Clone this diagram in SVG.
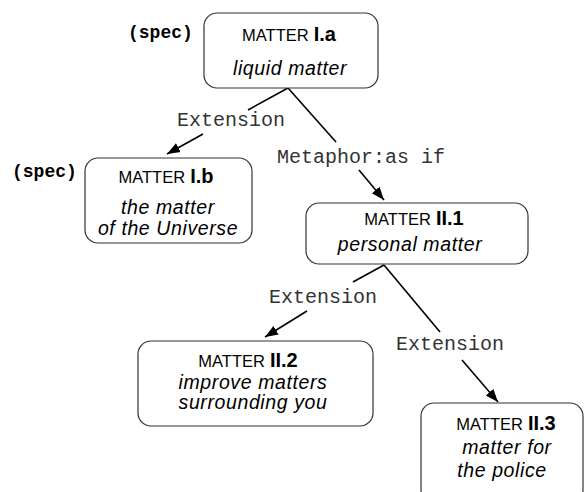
<svg xmlns="http://www.w3.org/2000/svg" width="586" height="492" viewBox="0 0 586 492">
<defs>
<marker id="arr" markerUnits="userSpaceOnUse" markerWidth="14" markerHeight="12" viewBox="0 0 14 12" refX="13" refY="6" orient="auto">
<path d="M0,1 L13,6 L0,11 Z" fill="#000"/>
</marker>
<style>
.box{fill:#fff;stroke:#333;stroke-width:1.2}
.m{font-family:"Liberation Sans",Arial,sans-serif;font-size:16.5px;fill:#000}
.b{font-family:"Liberation Sans",Arial,sans-serif;font-size:20px;font-weight:bold;fill:#000}
.i{font-family:"Liberation Sans",Arial,sans-serif;font-size:19.5px;font-style:italic;letter-spacing:0.6px;fill:#000}
.lab{font-family:"Liberation Mono","Courier New",monospace;font-size:20px;fill:#333}
.spec{font-family:"Liberation Mono","Courier New",monospace;font-size:18px;font-weight:bold;fill:#000}
.e{stroke:#000;stroke-width:1.6;fill:none}
</style>
</defs>
<g id="connectors">
<line class="e" x1="288" y1="88" x2="248" y2="110"/>
<line class="e" x1="203" y1="134" x2="167" y2="154" marker-end="url(#arr)"/>
<text class="lab" x="177" y="126">Extension</text>
<line class="e" x1="288" y1="88" x2="336" y2="142"/>
<line class="e" x1="359" y1="170" x2="384" y2="200" marker-end="url(#arr)"/>
<text class="lab" x="277" y="163">Metaphor:as if</text>
<line class="e" x1="384" y1="265" x2="353" y2="282"/>
<line class="e" x1="307" y1="311" x2="265" y2="337" marker-end="url(#arr)"/>
<text class="lab" x="269" y="303">Extension</text>
<line class="e" x1="384" y1="265" x2="440" y2="332"/>
<line class="e" x1="462" y1="360" x2="498" y2="402" marker-end="url(#arr)"/>
<text class="lab" x="396" y="350">Extension</text>
</g>
<g id="node-Ia">
<text class="spec" x="128" y="38">(spec)</text>
<rect class="box" x="204" y="13" width="174" height="75" rx="13"/>
<text x="289" y="41" text-anchor="middle"><tspan class="m">MATTER</tspan><tspan class="b" dx="5">I.a</tspan></text>
<text class="i" x="290" y="75" text-anchor="middle">liquid matter</text>
</g>
<g id="node-Ib">
<text class="spec" x="12" y="177">(spec)</text>
<rect class="box" x="85" y="158" width="167" height="85" rx="13"/>
<text x="166" y="183" text-anchor="middle"><tspan class="m">MATTER</tspan><tspan class="b" dx="5">I.b</tspan></text>
<text class="i" x="168" y="214" text-anchor="middle">the matter</text>
<text class="i" x="168" y="235" text-anchor="middle">of the Universe</text>
</g>
<g id="node-II1">
<rect class="box" x="306" y="203" width="222" height="61" rx="13"/>
<text x="414" y="225" text-anchor="middle"><tspan class="m">MATTER</tspan><tspan class="b" dx="5">II.1</tspan></text>
<text class="i" x="410" y="251" text-anchor="middle">personal matter</text>
</g>
<g id="node-II2">
<rect class="box" x="138" y="341" width="235" height="85" rx="13"/>
<text x="248" y="367" text-anchor="middle"><tspan class="m">MATTER</tspan><tspan class="b" dx="5">II.2</tspan></text>
<text class="i" x="253" y="389" text-anchor="middle">improve matters</text>
<text class="i" x="253" y="409" text-anchor="middle">surrounding you</text>
</g>
<g id="node-II3">
<rect class="box" x="421" y="403" width="162" height="100" rx="13"/>
<text x="506" y="430" text-anchor="middle"><tspan class="m">MATTER</tspan><tspan class="b" dx="5">II.3</tspan></text>
<text class="i" x="507" y="454" text-anchor="middle">matter for</text>
<text class="i" x="502" y="477" text-anchor="middle">the police</text>
</g>
</svg>
